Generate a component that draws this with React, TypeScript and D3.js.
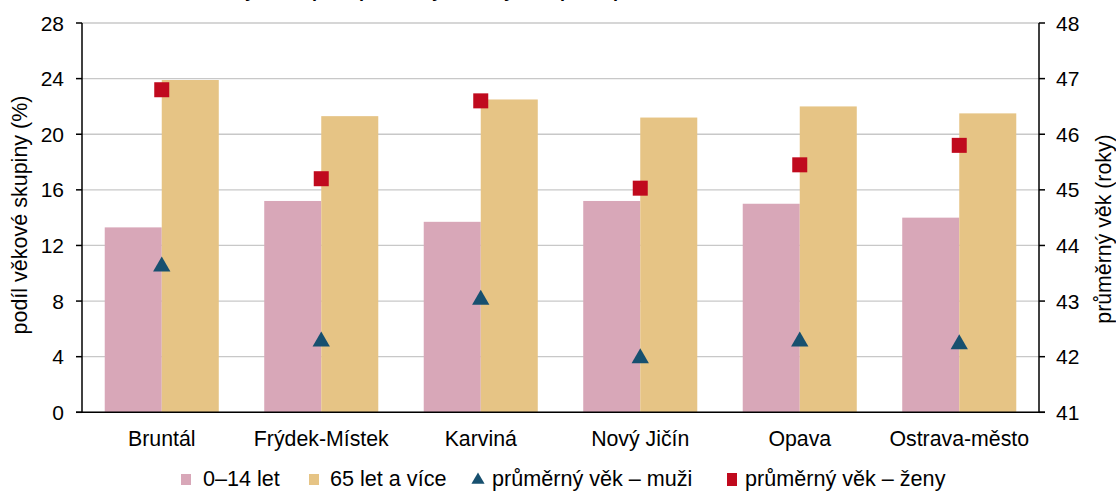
import React from "react";
import * as d3 from "d3";

const categories = ["Bruntál", "Frýdek-Místek", "Karviná", "Nový Jičín", "Opava", "Ostrava-město"];
const share0to14 = [13.3, 15.2, 13.7, 15.2, 15.0, 14.0];
const share65plus = [23.9, 21.3, 22.5, 21.2, 22.0, 21.5];
const ageMen = [43.65, 42.3, 43.05, 42.0, 42.3, 42.25];
const ageWomen = [46.8, 45.2, 46.6, 45.03, 45.45, 45.8];
const leftTicks = [0, 4, 8, 12, 16, 20, 24, 28];
const rightTicks = [41, 42, 43, 44, 45, 46, 47, 48];
const seriesNames = ["0–14 let", "65 let a více", "průměrný věk – muži", "průměrný věk – ženy"];
const titleText = "Podíl věkových skupin a průměrný věk obyvatel podle pohlaví v okresech";

const W = 1116;
const H = 491;
const L = 82;
const R = 1039;
const T = 23;
const B = 412.3;

const PINK = "#D8A7B8";
const GOLD = "#E6C485";
const BLUE = "#17506F";
const RED = "#C00A1E";
const FONT = "'Liberation Sans', Arial, sans-serif";

export default function App() {
  const x = d3.scaleBand<string>().domain(categories).range([L, R]).paddingInner(0.285).paddingOuter(0.1425);
  const y = d3.scaleLinear().domain([0, 28]).range([B, T]);
  const y2 = d3.scaleLinear().domain([41, 48]).range([B, T]);
  const bw = x.bandwidth() / 2;
  const tri = d3.symbol().type(d3.symbolTriangle).size(130)();
  const triLeg = d3.symbol().type(d3.symbolTriangle).size(75)();

  const legendItems = [
    { x: 181, tx: 203, kind: "pink", label: seriesNames[0] },
    { x: 309, tx: 330, kind: "gold", label: seriesNames[1] },
    { x: 473, tx: 492, kind: "tri", label: seriesNames[2] },
    { x: 727, tx: 745, kind: "sq", label: seriesNames[3] },
  ];

  return (
    <svg width={W} height={H} style={{ position: "absolute", left: 0, top: 0, background: "#fff" }} fontFamily={FONT}>
      <text x={460} y={-3.5} textAnchor="middle" fontSize={18} fontWeight="bold" fill="#000">{titleText}</text>
      {leftTicks.map((t) => (
        <line key={"g" + t} x1={L} x2={R} y1={y(t)} y2={y(t)} stroke="#C8C8C8" strokeWidth={1.3} />
      ))}
      {categories.map((c, i) => (
        <g key={c}>
          <rect x={x(c)!} y={y(share0to14[i])} width={bw} height={B - y(share0to14[i])} fill={PINK} />
          <rect x={x(c)! + bw} y={y(share65plus[i])} width={bw} height={B - y(share65plus[i])} fill={GOLD} />
        </g>
      ))}
      {categories.map((c, i) => {
        const cx = x(c)! + bw;
        return (
          <g key={"m" + c}>
            <path d={tri!} transform={`translate(${cx},${y2(ageMen[i]) + 1.5})`} fill={BLUE} />
            <rect x={cx - 7.5} y={y2(ageWomen[i]) - 7.5} width={15} height={15} fill={RED} />
          </g>
        );
      })}
      <line x1={L} x2={L} y1={T} y2={B} stroke="#000" strokeWidth={1.5} />
      <line x1={R} x2={R} y1={T} y2={B} stroke="#000" strokeWidth={1.5} />
      <line x1={L - 6} x2={R + 6} y1={B} y2={B} stroke="#000" strokeWidth={1.5} />
      {leftTicks.map((t) => (
        <g key={"lt" + t}>
          <line x1={L - 6} x2={L} y1={y(t)} y2={y(t)} stroke="#000" strokeWidth={1.5} />
          <text x={64} y={y(t)} dy="0.36em" textAnchor="end" fontSize={21} fill="#000">{t}</text>
        </g>
      ))}
      {rightTicks.map((t) => (
        <g key={"rt" + t}>
          <line x1={R} x2={R + 6} y1={y2(t)} y2={y2(t)} stroke="#000" strokeWidth={1.5} />
          <text x={1056} y={y2(t)} dy="0.36em" textAnchor="start" fontSize={21} fill="#000">{t}</text>
        </g>
      ))}
      {categories.map((c) => (
        <text key={"cl" + c} x={x(c)! + bw} y={446} textAnchor="middle" fontSize={21.3} fill="#000">{c}</text>
      ))}
      <text transform={`translate(27,215) rotate(-90)`} textAnchor="middle" fontSize={21.5} fill="#000">podíl věkové skupiny (%)</text>
      <text transform={`translate(1111,229) rotate(-90)`} textAnchor="middle" fontSize={21.3} fill="#000">průměrný věk (roky)</text>
      {legendItems.map((it) => (
        <g key={it.label}>
          {it.kind === "pink" && <rect x={it.x} y={474} width={10} height={11} fill={PINK} />}
          {it.kind === "gold" && <rect x={it.x} y={474} width={10} height={11} fill={GOLD} />}
          {it.kind === "tri" && <path d={triLeg!} transform={`translate(${it.x + 5},${480})`} fill={BLUE} />}
          {it.kind === "sq" && <rect x={it.x} y={473} width={10} height={13} fill={RED} />}
          <text x={it.tx} y={486} fontSize={21.6} fill="#000">{it.label}</text>
        </g>
      ))}
    </svg>
  );
}
